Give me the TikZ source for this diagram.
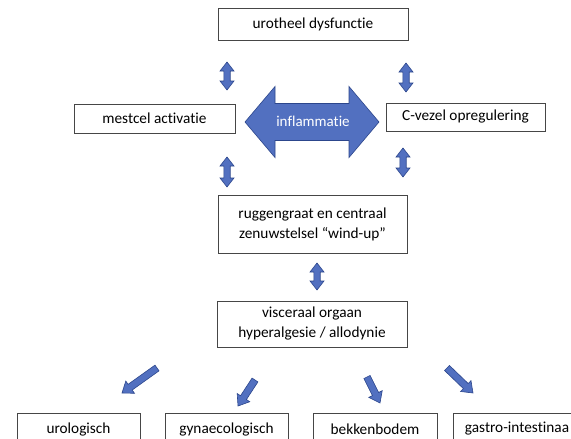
\documentclass[tikz,border=0pt]{standalone}
\usepackage{fontspec}
\setmainfont{Carlito}[Ligatures=NoCommon]
\usetikzlibrary{calc}
\definecolor{arrowfill}{RGB}{82,112,192}
\definecolor{arrowline}{RGB}{44,70,140}
\definecolor{boxline}{RGB}{70,70,70}
\tikzset{
  box/.style={draw=boxline, line width=0.9pt, fill=white, inner sep=0pt, align=center,
    font=\fontsize{15.3}{20}\selectfont},
  blockarrow/.style={fill=arrowfill, draw=arrowline, line width=0.6pt, line join=miter},
}
% single block arrow from #1 (tail) to #2 (tip); #3 shaft half-width, #4 head half-width, #5 head length
\newcommand{\singlearrow}[5]{%
  \coordinate (sa-c) at ($(#2)!#5!(#1)$);
  \draw[blockarrow] ($(#1)!#3!90:(#2)$) -- ($(sa-c)!#3!90:(#2)$) -- ($(sa-c)!#4!90:(#2)$) -- (#2)
    -- ($(sa-c)!#4!-90:(#2)$) -- ($(sa-c)!#3!-90:(#2)$) -- ($(#1)!#3!-90:(#2)$) -- cycle;}
% double block arrow between #1 and #2
\newcommand{\doublearrow}[5]{%
  \coordinate (da-c1) at ($(#1)!#5!(#2)$);
  \coordinate (da-c2) at ($(#2)!#5!(#1)$);
  \draw[blockarrow] (#1) -- ($(da-c1)!#4!90:(#2)$) -- ($(da-c1)!#3!90:(#2)$) -- ($(da-c2)!#3!-90:(#1)$)
    -- ($(da-c2)!#4!-90:(#1)$) -- (#2) -- ($(da-c2)!#4!90:(#1)$) -- ($(da-c2)!#3!90:(#1)$)
    -- ($(da-c1)!#3!-90:(#2)$) -- ($(da-c1)!#4!-90:(#2)$) -- cycle;}
\begin{document}
\begin{tikzpicture}[x=1pt,y=-1pt]
\useasboundingbox[fill=white] (0,0) rectangle (571,439);

% boxes
\node[box, minimum width=190, minimum height=32] (uro) at (313,24) {urotheel dysfunctie};
\node[box, minimum width=161, minimum height=29] (mest) at (154.5,118.5) {mestcel activatie};
\node[box, minimum width=159, minimum height=28] (cvez) at (465.5,117) {C-vezel opregulering};
\node[box, minimum width=189, minimum height=58] (rugg) at (312.5,224) {ruggengraat en centraal\\zenuwstelsel “wind-up”};
\node[box, minimum width=190, minimum height=46] (visc) at (312,324) {visceraal orgaan\\hyperalgesie / allodynie};
\node[box, minimum width=123, minimum height=32] (urol) at (78.5,429) {urologisch};
\node[box, minimum width=123, minimum height=32] (gyn) at (226.5,429) {gynaecologisch};
\node[box, minimum width=124, minimum height=32] (bekk) at (375,429) {bekkenbodem};
\node[box, minimum width=150, minimum height=32, anchor=west, text width=141, align=left] (gast) at (453,429) {\hspace*{7pt}gastro-intestinaa};

% big inflammation arrow
\coordinate (inL) at (245,122);
\coordinate (inR) at (379,122);
\doublearrow{inL}{inR}{18.5pt}{35.5pt}{30pt}
\node[text=white, font=\fontsize{15}{20}\selectfont] (infl) at (313,121) {inflammatie};

% small vertical double arrows
\coordinate (a1t) at (227,62);  \coordinate (a1b) at (227,90);
\coordinate (a2t) at (406,63);  \coordinate (a2b) at (406,92);
\coordinate (a3t) at (227,157); \coordinate (a3b) at (227,187);
\coordinate (a4t) at (403,148); \coordinate (a4b) at (403,177);
\coordinate (a5t) at (317,263); \coordinate (a5b) at (317,290);
\doublearrow{a1t}{a1b}{3.2pt}{7pt}{9pt}
\doublearrow{a2t}{a2b}{3.2pt}{7pt}{9pt}
\doublearrow{a3t}{a3b}{3.2pt}{7pt}{9pt}
\doublearrow{a4t}{a4b}{3.2pt}{7pt}{9pt}
\doublearrow{a5t}{a5b}{3.2pt}{7pt}{9pt}

% diagonal arrows to the organ boxes
\coordinate (d1a) at (157,368); \coordinate (d1b) at (122,393);
\coordinate (d2a) at (255,380); \coordinate (d2b) at (238,406);
\coordinate (d3a) at (367,377); \coordinate (d3b) at (380,403);
\coordinate (d4a) at (447,368); \coordinate (d4b) at (473,393);
\singlearrow{d1a}{d1b}{3.5pt}{7.5pt}{10pt}
\singlearrow{d2a}{d2b}{3.5pt}{7.5pt}{10pt}
\singlearrow{d3a}{d3b}{3.5pt}{7.5pt}{10pt}
\singlearrow{d4a}{d4b}{3.5pt}{7.5pt}{10pt}
\end{tikzpicture}
\end{document}
